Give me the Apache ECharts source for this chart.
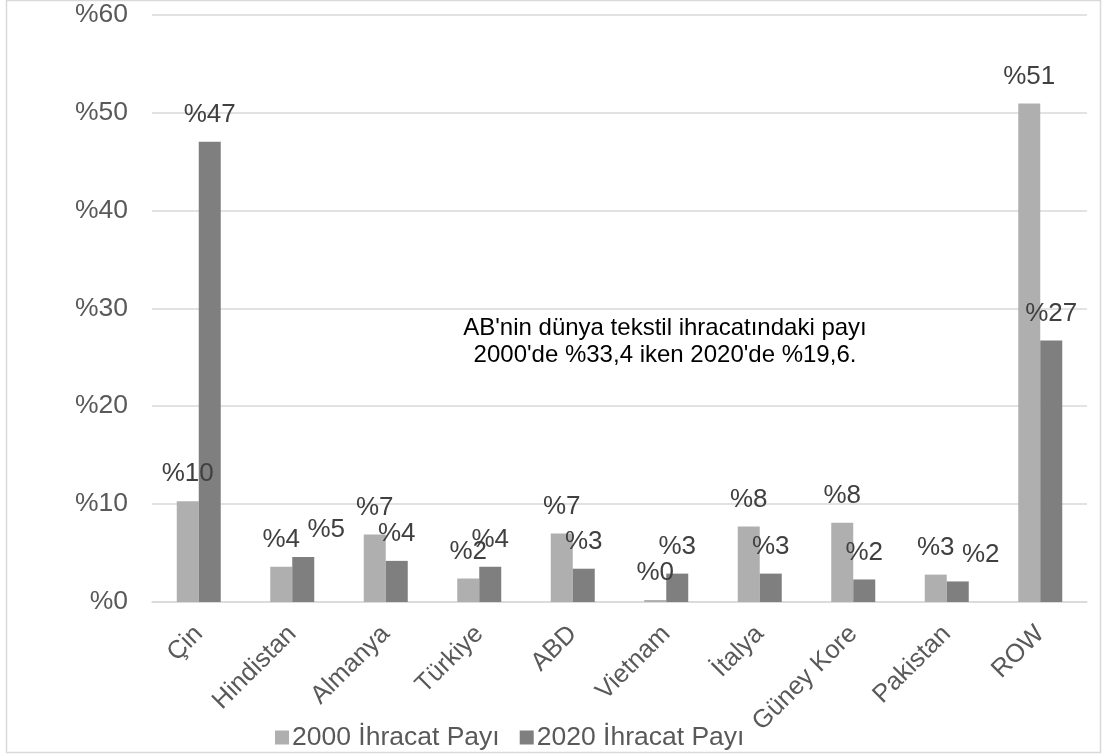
<!DOCTYPE html>
<html>
<head>
<meta charset="utf-8">
<script src="https://cdn.jsdelivr.net/npm/echarts@6/dist/echarts.min.js"></script>
<style>
  html, body { margin: 0; padding: 0; background: #ffffff; }
  #chart { width: 1107px; height: 756px; }
</style>
</head>
<body>
<div id="chart"></div>
<script>
// Textile export share by country, 2000 vs 2020 (percent of world total)
const countries = ['Çin', 'Hindistan', 'Almanya', 'Türkiye', 'ABD', 'Vietnam', 'İtalya', 'Güney Kore', 'Pakistan', 'ROW'];
const share2000 = [10.3, 3.6, 6.9, 2.4, 7.0, 0.2, 7.7, 8.1, 2.8, 50.9];
const share2020 = [47.0, 4.6, 4.2, 3.6, 3.4, 2.9, 2.9, 2.3, 2.1, 26.7];
const seriesNames = ['2000 İhracat Payı', '2020 İhracat Payı'];
const noteLines = ["AB'nin dünya tekstil ihracatındaki payı", "2000'de %33,4 iken 2020'de %19,6."];

// labels nudged sideways so they do not collide with neighbours
const shiftedLabels2020 = { 1: 23, 8: 23 };

const FONT = '"Liberation Sans", Arial, sans-serif';

function withLabelShift(values, shifts) {
  return values.map((v, i) => shifts[i] !== undefined
    ? { value: v, label: { offset: [shifts[i], 0] } }
    : v);
}

const valueLabel = {
  show: true,
  position: 'top',
  distance: 14,
  fontFamily: FONT,
  fontSize: 26,
  color: '#404040',
  formatter: p => '%' + Math.round(p.value)
};

const chart = echarts.init(document.getElementById('chart'));
chart.setOption({
  animation: false,
  backgroundColor: '#ffffff',
  textStyle: { fontFamily: FONT },
  grid: { left: 152, right: 20, top: 14.5, bottom: 154, containLabel: false },
  legend: {
    data: seriesNames,
    left: 270,
    top: 719,
    itemWidth: 14,
    itemHeight: 14,
    itemGap: 20,
    icon: 'rect',
    textStyle: { fontFamily: FONT, fontSize: 26.5, color: '#595959', padding: [0, 0, 0, -2] }
  },
  xAxis: {
    type: 'category',
    data: countries,
    axisLine: { show: true, lineStyle: { color: '#D9D9D9', width: 1.5 } },
    axisTick: { show: false },
    axisLabel: {
      rotate: 45,
      margin: 28,
      interval: 0,
      fontFamily: FONT,
      fontSize: 25.5,
      color: '#595959'
    }
  },
  yAxis: {
    type: 'value',
    min: 0,
    max: 60,
    interval: 10,
    axisLine: { show: false },
    axisTick: { show: false },
    splitLine: { lineStyle: { color: '#D9D9D9', width: 1.5 } },
    axisLabel: {
      margin: 24,
      fontFamily: FONT,
      fontSize: 26.5,
      color: '#595959',
      formatter: v => '%' + v
    }
  },
  series: [
    {
      name: seriesNames[0],
      type: 'bar',
      data: share2000,
      barWidth: 22,
      barGap: '0%',
      itemStyle: { color: '#AFAFAF' },
      label: valueLabel
    },
    {
      name: seriesNames[1],
      type: 'bar',
      data: withLabelShift(share2020, shiftedLabels2020),
      barWidth: 22,
      barGap: '0%',
      itemStyle: { color: '#7F7F7F' },
      label: valueLabel
    }
  ],
  graphic: [
    {
      type: 'rect',
      silent: true,
      shape: { x: 6.5, y: 0.5, width: 1094, height: 752 },
      style: { fill: 'none', stroke: '#D9D9D9', lineWidth: 1.5 }
    },
    {
      type: 'text',
      silent: true,
      style: {
        x: 665,
        y: 342,
        text: noteLines.join('\n'),
        fontFamily: FONT,
        fontSize: 24,
        lineHeight: 27,
        fill: '#000000',
        align: 'center',
        verticalAlign: 'middle'
      }
    }
  ]
});
</script>
</body>
</html>
